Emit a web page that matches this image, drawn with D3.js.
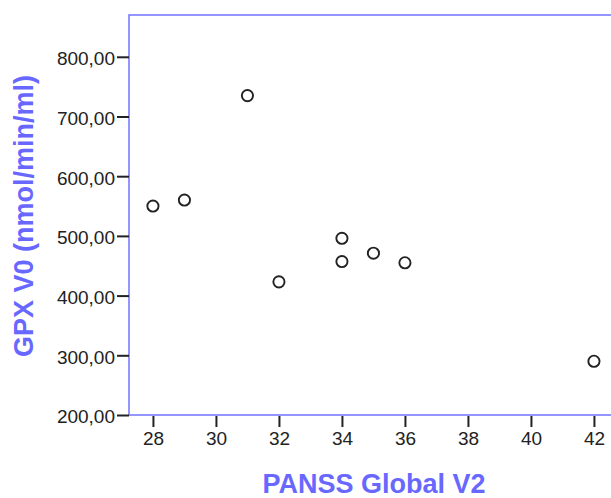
<!DOCTYPE html>
<html>
<head>
<meta charset="utf-8">
<script src="https://cdn.jsdelivr.net/npm/d3@7"></script>
<style>
  html, body { margin: 0; padding: 0; background: #fff; }
  svg { display: block; }
</style>
</head>
<body>
<svg id="chart" width="611" height="498"></svg>
<script>
// Data
const panssGlobalV2 = [28, 29, 31, 32, 34, 34, 35, 36, 42];
const gpxV0 = [550, 560, 735, 423, 496, 457, 471, 455, 290];
const xTicks = [28, 30, 32, 34, 36, 38, 40, 42];
const yTicks = [200, 300, 400, 500, 600, 700, 800];
const xTitle = "PANSS Global V2";
const yTitle = "GPX V0 (nmol/min/ml)";

(function () {
const svg = d3.select("#chart");
const plotLeft = 129, plotTop = 15, plotBottom = 415;
const axisColor = "#7373ff";
const titleColor = "#6868ff";

const x = d3.scaleLinear().domain([27.24, 43]).range([plotLeft, plotLeft + (43 - 27.24) * 31.5]);
const y = d3.scaleLinear().domain([200, 870]).range([plotBottom, plotTop]);

// Frame
svg.append("rect")
  .attr("x", plotLeft).attr("y", plotTop)
  .attr("width", x.range()[1] - plotLeft)
  .attr("height", plotBottom - plotTop)
  .attr("fill", "none")
  .attr("stroke", axisColor)
  .attr("stroke-width", 1.5);

const fmt = v => d3.format(".2f")(v).replace(".", ",");

// Y axis
const yAxis = svg.append("g")
  .attr("transform", `translate(${plotLeft},0)`)
  .call(d3.axisLeft(y).tickValues(yTicks).tickSize(12).tickPadding(2).tickFormat(fmt));
yAxis.select(".domain").remove();
yAxis.selectAll(".tick line").attr("stroke", "#222").attr("stroke-width", 2);
yAxis.selectAll(".tick text")
  .attr("fill", "#222")
  .attr("dy", "0.42em")
  .style("font-family", "Liberation Sans, Arial, sans-serif")
  .style("font-size", "19px");

// X axis
const xAxis = svg.append("g")
  .attr("transform", `translate(0,${plotBottom})`)
  .call(d3.axisBottom(x).tickValues(xTicks).tickSize(12).tickPadding(5).tickFormat(d3.format("d")));
xAxis.select(".domain").remove();
xAxis.selectAll(".tick line").attr("stroke", "#222").attr("stroke-width", 2).attr("y1", 1);
xAxis.selectAll(".tick text")
  .attr("fill", "#222")
  .style("font-family", "Liberation Sans, Arial, sans-serif")
  .style("font-size", "19px");

// Points
svg.append("g").selectAll("circle")
  .data(panssGlobalV2.map((d, i) => ({ x: d, y: gpxV0[i] })))
  .join("circle")
  .attr("cx", d => x(d.x))
  .attr("cy", d => y(d.y))
  .attr("r", 5.6)
  .attr("fill", "none")
  .attr("stroke", "#222")
  .attr("stroke-width", 1.9);

// Titles
svg.append("text")
  .attr("x", 374).attr("y", 493)
  .attr("text-anchor", "middle")
  .attr("fill", titleColor)
  .style("font-family", "Liberation Sans, Arial, sans-serif")
  .style("font-weight", "bold")
  .style("font-size", "27px")
  .text(xTitle);

svg.append("text")
  .attr("transform", "translate(33,216) rotate(-90)")
  .attr("text-anchor", "middle")
  .attr("fill", titleColor)
  .style("font-family", "Liberation Sans, Arial, sans-serif")
  .style("font-weight", "bold")
  .style("font-size", "27px")
  .text(yTitle);
})();
</script>
</body>
</html>
